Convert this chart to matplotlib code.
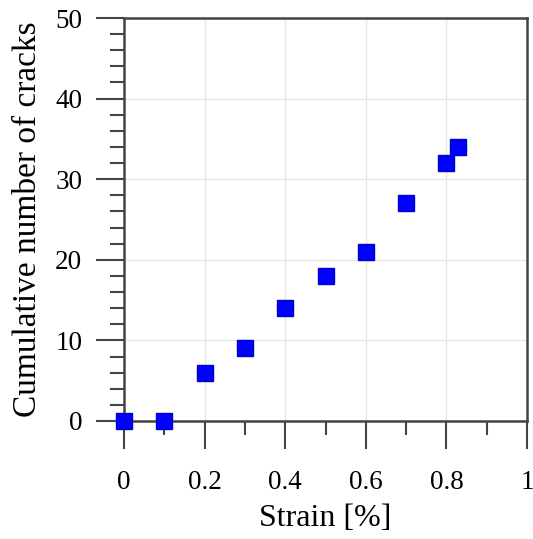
import numpy as np
import matplotlib.pyplot as plt
from matplotlib.ticker import MultipleLocator

strain = [0, 0.1, 0.2, 0.3, 0.4, 0.5, 0.6, 0.7, 0.8, 0.83]
cracks = [0, 0, 6, 9, 14, 18, 21, 27, 32, 34]

plt.rcParams['font.family'] = ['Liberation Serif', 'DejaVu Serif']

fig = plt.figure(figsize=(5.33, 5.39), dpi=100)
ax = fig.add_axes([124 / 533, 1 - 421 / 539, 403 / 533, 403 / 539])

ax.plot(strain, cracks, 's', color='#0000ff', markeredgecolor='#0000cc',
        markersize=12, clip_on=False, zorder=5)

ax.set_xlim(0, 1)
ax.set_ylim(0, 50)
ax.xaxis.set_major_locator(MultipleLocator(0.2))
ax.xaxis.set_minor_locator(MultipleLocator(0.1))
ax.yaxis.set_major_locator(MultipleLocator(10))
ax.yaxis.set_minor_locator(MultipleLocator(2))
ax.set_xticks([0, 0.2, 0.4, 0.6, 0.8, 1])
ax.set_xticklabels(['0', '0.2', '0.4', '0.6', '0.8', '1'])

ax.grid(True, which='major', color='#e6e6e6', linewidth=1)
ax.set_axisbelow(True)

for s in ax.spines.values():
    s.set_color('#444444')
    s.set_linewidth(1.8)

ax.tick_params(which='major', direction='out', length=20, width=1.5,
               color='#444444', labelsize=19.5, pad=10)
ax.tick_params(which='major', axis='x', pad=15)
ax.tick_params(which='minor', direction='out', length=10, width=1.5,
               color='#444444')

ax.set_xlabel('Strain [%]', fontsize=23, labelpad=7)
ax.set_ylabel('Cumulative number of cracks', fontsize=24, labelpad=9)

fig.savefig('out.png', dpi=100)
